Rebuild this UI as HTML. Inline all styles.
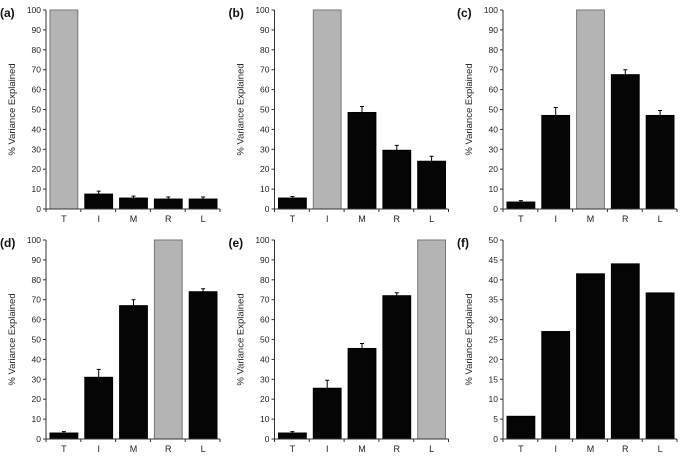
<!DOCTYPE html>
<html><head><meta charset="utf-8">
<style>
html,body{margin:0;padding:0;background:#fff;}
svg{display:block;font-family:"Liberation Sans",Arial,sans-serif;}
</style></head>
<body>
<svg id="fig" width="686" height="457" viewBox="0 0 686 457"></svg>
<script>
const categories = ["T","I","M","R","L"];
const panelLabels = ["(a)","(b)","(c)","(d)","(e)","(f)"];
const valuesA = [100, 7.5, 5.5, 5, 5];
const errorsA = [0, 1.5, 1, 1, 1];
const valuesB = [5.5, 100, 48.5, 29.5, 24];
const errorsB = [0.8, 0, 3, 2.5, 2.5];
const valuesC = [3.5, 47, 100, 67.5, 47];
const errorsC = [0.7, 4, 0, 2.5, 2.5];
const valuesD = [3, 31, 67, 100, 74];
const errorsD = [0.7, 4, 3, 0, 1.5];
const valuesE = [3, 25.5, 45.5, 72, 100];
const errorsE = [0.7, 4, 2.5, 1.5, 0];
const valuesF = [5.7, 27, 41.5, 44, 36.7];
const errorsF = [0, 0, 0, 0, 0];
const grayIndex = [0, 1, 2, 3, 4, -1];
const ticks100 = [0,10,20,30,40,50,60,70,80,90,100];
const ticks50 = [0,5,10,15,20,25,30,35,40,45,50];

const NS = "http://www.w3.org/2000/svg";
const svg = document.getElementById("fig");
function mk(tag, attrs, parent){
  const e = document.createElementNS(NS, tag);
  for (const k in attrs) e.setAttribute(k, attrs[k]);
  (parent||svg).appendChild(e);
  return e;
}
const allValues = [valuesA,valuesB,valuesC,valuesD,valuesE,valuesF];
const allErrors = [errorsA,errorsB,errorsC,errorsD,errorsE,errorsF];
const slugs = ["a","b","c","d","e","f"];

for (let p = 0; p < 6; p++) {
  const col = p % 3, row = Math.floor(p / 3);
  const ox = 46 + col * 228.5, oy = row * 230;
  const top = oy + 10, bottom = oy + 209;
  const right = ox + 174;
  const ticks = p === 5 ? ticks50 : ticks100;
  const maxV = ticks[ticks.length - 1];
  const y = v => bottom - (v / maxV) * (bottom - top);
  const step = (right - ox) / categories.length;
  const x = i => ox + i * step;

  const g = mk("g", {});
  
  

  const lab = mk("text", {x: ox - 46, y: oy + 17, "font-size": 12, "font-weight": "bold", fill: "#111"}, g);
  lab.textContent = panelLabels[p];
  
  

  const yt = mk("text", {x: 0, y: 0, "font-size": 9.5, fill: "#222", "text-anchor": "middle",
    transform: `translate(${ox - 31},${(top + bottom) / 2}) rotate(-90)`}, g);
  yt.textContent = "% Variance Explained";
  
  

  // bars
  const vals = allValues[p], errs = allErrors[p];
  for (let i = 0; i < categories.length; i++) {
    const gray = grayIndex[p] === i;
    const bx = x(i) + 4, bw = step - 7;
    const r = mk("rect", {x: bx, y: y(vals[i]), width: bw, height: bottom - y(vals[i]),
      fill: gray ? "#b4b4b4" : "#050505", stroke: gray ? "#777" : "#000", "stroke-width": 1}, g);
    
    
    if (errs[i] > 0) {
      const cx = bx + bw / 2;
      const e = mk("path", {d: `M${cx},${y(vals[i])} V${y(vals[i] + errs[i])} M${cx - 2},${y(vals[i] + errs[i])} H${cx + 2}`,
        stroke: "#000", "stroke-width": 1, fill: "none"}, g);
      
      
    }
    const xl = mk("text", {x: bx + bw / 2, y: bottom + 13, "font-size": 9, fill: "#222", "text-anchor": "middle"}, g);
    xl.textContent = categories[i];
    
    
  }

  // axes
  const ax = mk("path", {d: `M${ox},${top} V${bottom} H${right}`, stroke: "#333", "stroke-width": 1, fill: "none"}, g);
  
  
  for (const t of ticks) {
    const tk = mk("line", {x1: ox - 3, x2: ox, y1: y(t), y2: y(t), stroke: "#333", "stroke-width": 1}, g);
    
    
    const tl = mk("text", {x: ox - 5, y: y(t) + 3, "font-size": 8.5, fill: "#222", "text-anchor": "end"}, g);
    tl.textContent = t;
    
    
  }
  for (let i = 0; i <= categories.length; i++) {
    const tk = mk("line", {x1: x(i), x2: x(i), y1: bottom, y2: bottom + 3, stroke: "#333", "stroke-width": 1}, g);
    
    
  }
}
</script>
</body></html>
